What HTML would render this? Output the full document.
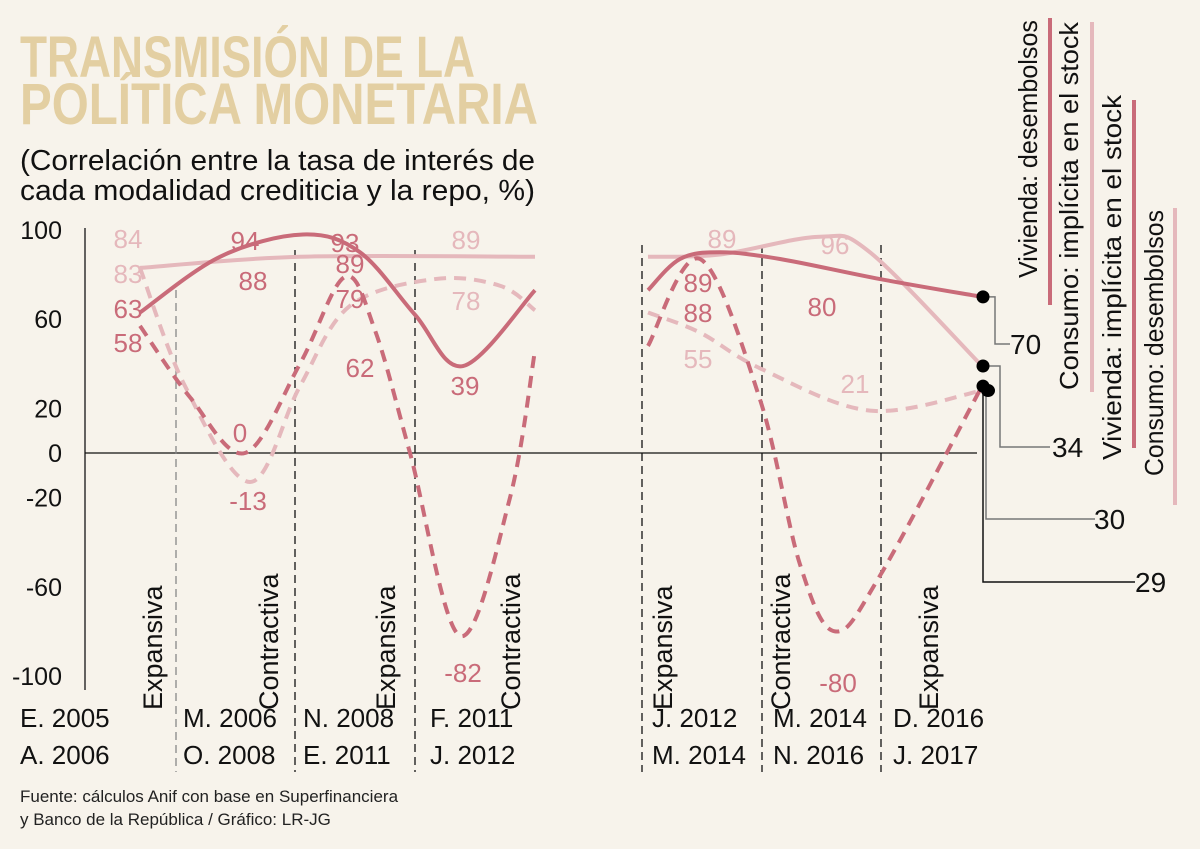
<!DOCTYPE html>
<html><head><meta charset="utf-8"><style>
body{margin:0;background:#f7f3eb;}
svg{display:block;font-family:"Liberation Sans",sans-serif;}
</style></head><body>
<svg id="c" width="1200" height="849" viewBox="0 0 1200 849">
<rect width="1200" height="849" fill="#f7f3eb"/>
<text x="20" y="77" font-size="58" font-weight="bold" fill="#e3cfa2" textLength="455" lengthAdjust="spacingAndGlyphs">TRANSMISIÓN DE LA</text>
<text x="20" y="124" font-size="58" font-weight="bold" fill="#e3cfa2" textLength="518" lengthAdjust="spacingAndGlyphs">POLÍTICA MONETARIA</text>
<text x="20" y="170" font-size="29" fill="#111" textLength="515" lengthAdjust="spacingAndGlyphs">(Correlación entre la tasa de interés de</text>
<text x="20" y="200" font-size="29" fill="#111" textLength="515" lengthAdjust="spacingAndGlyphs">cada modalidad crediticia y la repo, %)</text>
<g id="g"></g>
<text x="20" y="802" font-size="17" fill="#222">Fuente: cálculos Anif con base en Superfinanciera</text>
<text x="20" y="825" font-size="17" fill="#222">y Banco de la República / Gráfico: LR-JG</text>
</svg>
<script>
const yTicks=[100,60,20,0,-20,-60,-100];
const dark="#c96b79", light="#e5b8bc";
// series: x in time-axis units (0..900), values in %
const viviendaDesX1=[55,135,218,275,330,378,450];
const viviendaDesV1=[63,88,98,90,62,39,73];
const viviendaDesX2=[563,595,635,695,795,897];
const viviendaDesV2=[73,87,90,87,78,70];
const consumoImpX1=[55,215,450];
const consumoImpV1=[83,88,88];
const consumoImpX2=[563,635,735,785,897];
const consumoImpV2=[88,89,97,90,39];
const viviendaImpX1=[55,105,160,215,260,290,325,375,425,450];
const viviendaImpV1=[57,25,0,40,79,55,0,-82,-20,46];
const viviendaImpX2=[563,615,675,715,750,795,897];
const viviendaImpV2=[48,87,24,-50,-80,-55,30];
const consumoDesX1=[55,100,165,215,265,350,415,450];
const consumoDesV1=[83,30,-13,30,66,78,75,64];
const consumoDesX2=[563,615,675,785,897];
const consumoDesV2=[63,54,38,19,28];
const periods1=["E. 2005","M. 2006","N. 2008","F. 2011","J. 2012","M. 2014","D. 2016"];
const periods2=["A. 2006","O. 2008","E. 2011","J. 2012","M. 2014","N. 2016","J. 2017"];
const periodX=[20,183,303,430,652,773,893];
const phases=["Expansiva","Contractiva","Expansiva","Contractiva","Expansiva","Contractiva","Expansiva"];
const phaseX=[152,268,385,510,662,780,928];
const labelVals=[84,83,63,58,94,88,0,-13,93,89,79,62,89,78,39,-82,89,89,88,55,96,80,21,-80];
const labelX=[128,128,128,128,245,253,240,248,345,350,350,360,466,466,465,463,722,698,698,698,835,822,855,838];
const labelY=[248,283,318,352,250,290,442,510,252,273,308,377,249,310,395,682,248,292,322,368,254,316,393,692];
const labelDark=[0,0,1,1,1,1,1,1,1,1,1,1,0,0,1,1,0,1,1,0,0,1,0,1];
const endVals=[70,34,30,29];
const ns="http://www.w3.org/2000/svg";
const g=document.getElementById('g');
const X=t=>85+t, Y=v=>453-v*2.23;
function el(tag,a){const e=document.createElementNS(ns,tag);for(const k in a)e.setAttribute(k,a[k]);g.appendChild(e);return e;}
function path(xs,vs){const p=xs.map((x,i)=>[X(x),Y(vs[i])]);let d="M"+p[0][0]+","+p[0][1];
for(let i=0;i<p.length-1;i++){const p0=p[i-1]||p[i],p1=p[i],p2=p[i+1],p3=p[i+2]||p2;
d+=" C"+(p1[0]+(p2[0]-p0[0])/6)+","+(p1[1]+(p2[1]-p0[1])/6)+" "+(p2[0]-(p3[0]-p1[0])/6)+","+(p2[1]-(p3[1]-p1[1])/6)+" "+p2[0]+","+p2[1];}return d;}
let e=el('line',{x1:85,y1:228,x2:85,y2:690,stroke:"#333","stroke-width":1.5});

e=el('line',{x1:85,y1:Y(0),x2:977,y2:Y(0),stroke:"#111","stroke-width":1.3});

yTicks.forEach(v=>{const t=el('text',{x:62,y:Y(v)+9,"font-size":25,"text-anchor":"end",fill:"#111"});t.textContent=v;
});
[[176,290,"#888"],[295,250,"#111"],[415,250,"#111"],[642,245,"#111"],[762,245,"#111"],[881,245,"#111"]].forEach(s=>{
const l=el('line',{x1:s[0],y1:s[1],x2:s[0],y2:772,stroke:s[2],"stroke-width":1.3,"stroke-dasharray":"8,5"});
});
phases.forEach((p,i)=>{const t=el('text',{x:0,y:0,"font-size":27,fill:"#111",transform:`translate(${phaseX[i]+10},710) rotate(-90)`});t.textContent=p;
});
periods1.forEach((p,i)=>{const t=el('text',{x:periodX[i],y:727,"font-size":26,fill:"#111"});t.textContent=p;

const u=el('text',{x:periodX[i],y:764,"font-size":26,fill:"#111"});u.textContent=periods2[i];
});
const series=[[consumoImpX1,consumoImpV1,light,0,'consumo-implicita-line'],[consumoImpX2,consumoImpV2,light,0,'consumo-implicita-line'],
[consumoDesX1,consumoDesV1,light,1,'consumo-desembolsos-line'],[consumoDesX2,consumoDesV2,light,1,'consumo-desembolsos-line'],
[viviendaImpX1,viviendaImpV1,dark,1,'vivienda-implicita-line'],[viviendaImpX2,viviendaImpV2,dark,1,'vivienda-implicita-line'],
[viviendaDesX1,viviendaDesV1,dark,0,'vivienda-desembolsos-line'],[viviendaDesX2,viviendaDesV2,dark,0,'vivienda-desembolsos-line']];
series.forEach(s=>{const a={d:path(s[0],s[1]),fill:"none",stroke:s[2],"stroke-width":4};if(s[3])a["stroke-dasharray"]="12,8";
const p=el('path',a);});
labelVals.forEach((v,i)=>{const t=el('text',{x:labelX[i],y:labelY[i],"font-size":26,"text-anchor":"middle",fill:labelDark[i]?dark:light});t.textContent=v;
});
const ends=[[viviendaDesV2],[consumoImpV2],[viviendaImpV2],[consumoDesV2]];
const conn=[[995,1010,352,"#777"],[1000,1050,455,"#777"],[986,1095,527,"#777"],[983,1135,590,"#111"]];
const numX=[1010,1052,1094,1135];
ends.forEach((s,i)=>{const arr=s[0],v=arr[arr.length-1],y=Y(v),c=conn[i];
const l=el('path',{d:`M985,${y} H${c[0]} V${c[2]-8} H${c[1]}`,fill:"none",stroke:c[3],"stroke-width":1.5});

const d=el('ellipse',{cx:i==3?988:983,cy:y,rx:i==3?7:6.5,ry:6.5,fill:"#000"});

const t=el('text',{x:numX[i],y:c[2]+2,"font-size":28,fill:"#111"});t.textContent=endVals[i];
});
const leg=[["Vivienda: desembolsos",1037,278,dark,1050,18,305,258],["Consumo: implícita en el stock",1078,390,light,1092,22,392,368],
["Vivienda: implícita en el stock",1121,460,dark,1134,100,448,365],["Consumo: desembolsos",1163,476,light,1175,208,505,266]];
leg.forEach(l=>{const t=el('text',{x:0,y:0,"font-size":26,fill:"#111",textLength:l[7],lengthAdjust:"spacingAndGlyphs",transform:`translate(${l[1]},${l[2]}) rotate(-90)`});t.textContent=l[0];

const b=el('line',{x1:l[4],y1:l[5],x2:l[4],y2:l[6],stroke:l[3],"stroke-width":4});
});
</script>
</body></html>
